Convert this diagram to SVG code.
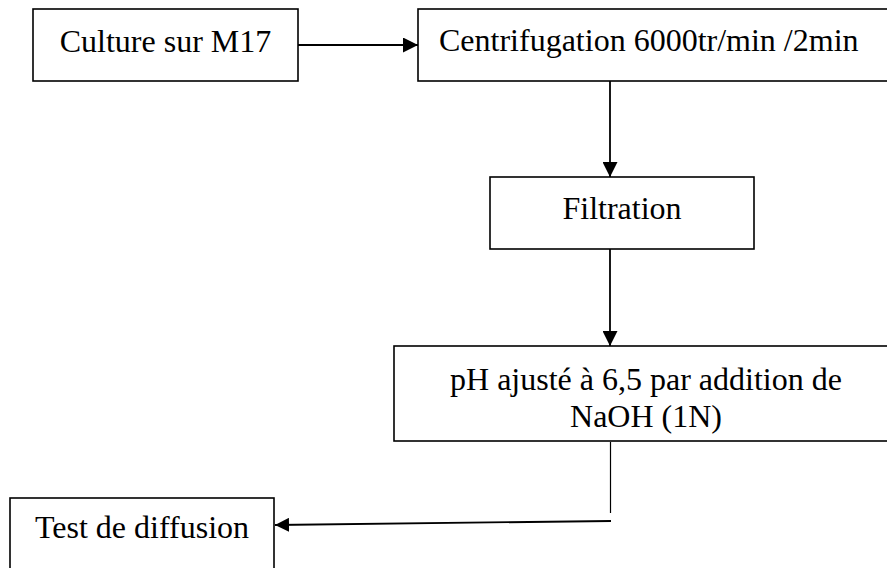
<svg xmlns="http://www.w3.org/2000/svg" width="887" height="568" viewBox="0 0 887 568">
  <style>
    .box { fill: #fff; stroke: #000; stroke-width: 1.6; }
    .lbl { font-family: "Liberation Serif", "Times New Roman", serif; font-size: 32px; fill: #000; }
    .mid { text-anchor: middle; }
    .wire { fill: none; stroke: #000; stroke-width: 1.8; }
    .thin { fill: none; stroke: #000; stroke-width: 1.2; }
  </style>
  <defs>
    <marker id="head" viewBox="0 0 15 15" refX="15" refY="7.5" markerWidth="15" markerHeight="15" markerUnits="userSpaceOnUse" orient="auto">
      <path d="M0,0 L15,7.5 L0,15 Z" fill="#000"/>
    </marker>
    <marker id="head-sm" viewBox="0 0 14 14" refX="14" refY="7" markerWidth="14" markerHeight="14" markerUnits="userSpaceOnUse" orient="auto">
      <path d="M0,0 L14,7 L0,14 Z" fill="#000"/>
    </marker>
  </defs>
  <rect width="887" height="568" fill="#fff"/>

  <g id="connectors">
    <line class="wire" x1="298" y1="45" x2="418" y2="45" marker-end="url(#head)"/>
    <line class="wire" x1="610" y1="81" x2="610" y2="177" marker-end="url(#head)"/>
    <line class="wire" x1="610" y1="249" x2="610" y2="346" marker-end="url(#head)"/>
    <line class="thin" x1="610.5" y1="442" x2="610.5" y2="513"/>
    <line class="wire" x1="611" y1="521" x2="275" y2="525" marker-end="url(#head-sm)"/>
  </g>

  <g id="culture">
    <rect class="box" x="33" y="9" width="265" height="72"/>
    <text class="lbl mid" x="165.5" y="52">Culture sur M17</text>
  </g>

  <g id="centrifugation">
    <rect class="box" x="418" y="9" width="480" height="72"/>
    <text class="lbl" x="439" y="51">Centrifugation 6000tr/min /2min</text>
  </g>

  <g id="filtration">
    <rect class="box" x="490" y="177" width="264" height="72"/>
    <text class="lbl mid" x="622" y="219">Filtration</text>
  </g>

  <g id="ph">
    <rect class="box" x="394" y="346" width="504" height="95"/>
    <text class="lbl mid" x="646" y="390">pH ajusté à 6,5 par addition de</text>
    <text class="lbl mid" x="646" y="427">NaOH (1N)</text>
  </g>

  <g id="diffusion">
    <rect class="box" x="10" y="498" width="264" height="80"/>
    <text class="lbl mid" x="142" y="538">Test de diffusion</text>
  </g>
</svg>
